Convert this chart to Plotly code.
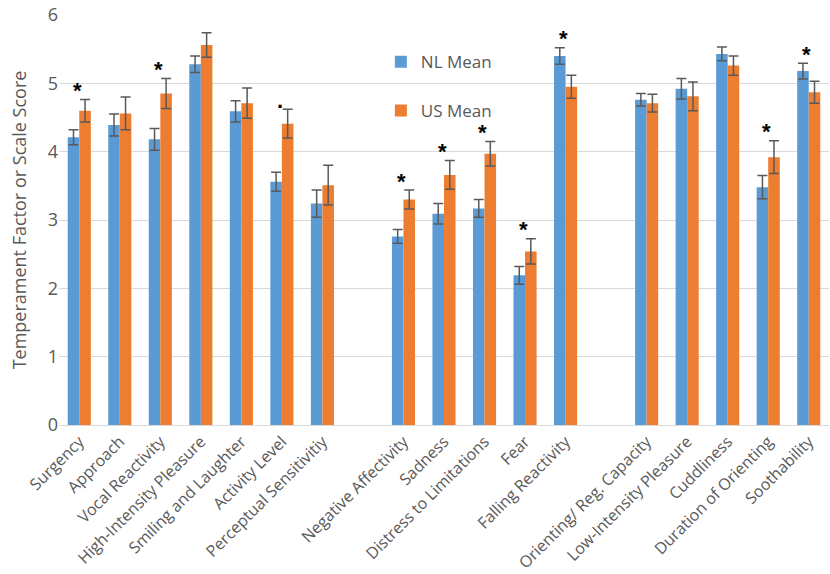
import plotly.graph_objects as go

# Temperament scales, in three clusters (a blank slot separates clusters)
group_surgency = ["Surgency", "Approach", "Vocal Reactivity", "High-Intensity Pleasure",
                  "Smiling and Laughter", "Activity Level", "Perceptual Sensitivitiy"]
group_negative = ["Negative Affectivity", "Sadness", "Distress to Limitations", "Fear",
                  "Falling Reactivity"]
group_regulation = ["Orienting/ Reg. Capacity", "Low-Intensity Pleasure", "Cuddliness",
                    "Duration of Orienting", "Soothability"]

nl_mean = [4.21, 4.39, 4.18, 5.28, 4.59, 3.56, 3.24,
           2.76, 3.09, 3.17, 2.19, 5.40,
           4.76, 4.92, 5.43, 3.48, 5.18]
nl_err = [0.11, 0.16, 0.16, 0.12, 0.155, 0.14, 0.20,
          0.10, 0.15, 0.13, 0.13, 0.12,
          0.09, 0.15, 0.10, 0.17, 0.115]
us_mean = [4.60, 4.56, 4.85, 5.56, 4.71, 4.41, 3.51,
           3.30, 3.66, 3.97, 2.54, 4.95,
           4.71, 4.81, 5.26, 3.92, 4.87]
us_err = [0.165, 0.24, 0.22, 0.18, 0.22, 0.21, 0.29,
          0.14, 0.21, 0.18, 0.185, 0.17,
          0.13, 0.21, 0.14, 0.24, 0.16]
significance = ["*", "", "*", "", "", ".", "",
                "*", "*", "*", "*", "*",
                "", "", "", "*", "*"]

y_ticks = [0, 1, 2, 3, 4, 5, 6]

# slot positions: one empty slot between clusters
labels, positions = [], []
slot = 0
for gi, grp in enumerate([group_surgency, group_negative, group_regulation]):
    if gi > 0:
        slot += 1
    for name in grp:
        labels.append(name)
        positions.append(slot)
        slot += 1

grey = "#595959"
font_family = "Open Sans, Noto Sans, sans-serif"

fig = go.Figure()
fig.add_trace(go.Bar(
    x=positions, y=nl_mean, name="NL Mean", showlegend=True,
    marker=dict(color="#5B9BD5", line=dict(width=0)),
    error_y=dict(type="data", array=nl_err, color=grey, thickness=1.5, width=5),
    legend="legend",
))
fig.add_trace(go.Bar(
    x=positions, y=us_mean, name="US Mean", showlegend=True,
    marker=dict(color="#ED7D31", line=dict(width=0)),
    error_y=dict(type="data", array=us_err, color=grey, thickness=1.5, width=5),
    legend="legend2",
))

for pos, mark, a, ea, b, eb in zip(positions, significance, nl_mean, nl_err, us_mean, us_err):
    if not mark:
        continue
    top = max(a + ea, b + eb)
    fig.add_annotation(
        x=pos, y=top + 0.13, text=f"<b>{mark}</b>", showarrow=False,
        xshift=-2, yanchor="middle",
        font=dict(family="Arial, Liberation Sans, sans-serif", size=22, color="black"),
    )

legend_style = dict(xanchor="left", yanchor="middle", font=dict(size=17, color=grey),
                    bgcolor="rgba(0,0,0,0)")

fig.update_layout(
    width=830, height=574,
    margin=dict(l=59, r=1, t=15, b=149),
    paper_bgcolor="white", plot_bgcolor="white",
    barmode="group", bargap=0.43, bargroupgap=0,
    showlegend=True,
    font=dict(family=font_family, color=grey),
    legend=dict(x=0.418, y=0.885, **legend_style),
    legend2=dict(x=0.418, y=0.766, **legend_style),
    xaxis=dict(
        range=[-0.5, slot - 0.5], tickmode="array", tickvals=positions, ticktext=labels,
        tickangle=-45, tickfont=dict(size=16, color=grey), showgrid=False,
        showline=True, linecolor="#d9d9d9", linewidth=1, ticks="", zeroline=False,
        automargin=False,
    ),
    yaxis=dict(
        range=[0, 6], tickmode="array", tickvals=y_ticks,
        tickfont=dict(size=18, color=grey), gridcolor="#d9d9d9", gridwidth=1,
        zeroline=False, showline=False, ticks="", automargin=False,
        title=dict(text="Temperament Factor or Scale Score", font=dict(size=18, color=grey),
                   standoff=16),
    ),
)

fig.write_html("out.html")
